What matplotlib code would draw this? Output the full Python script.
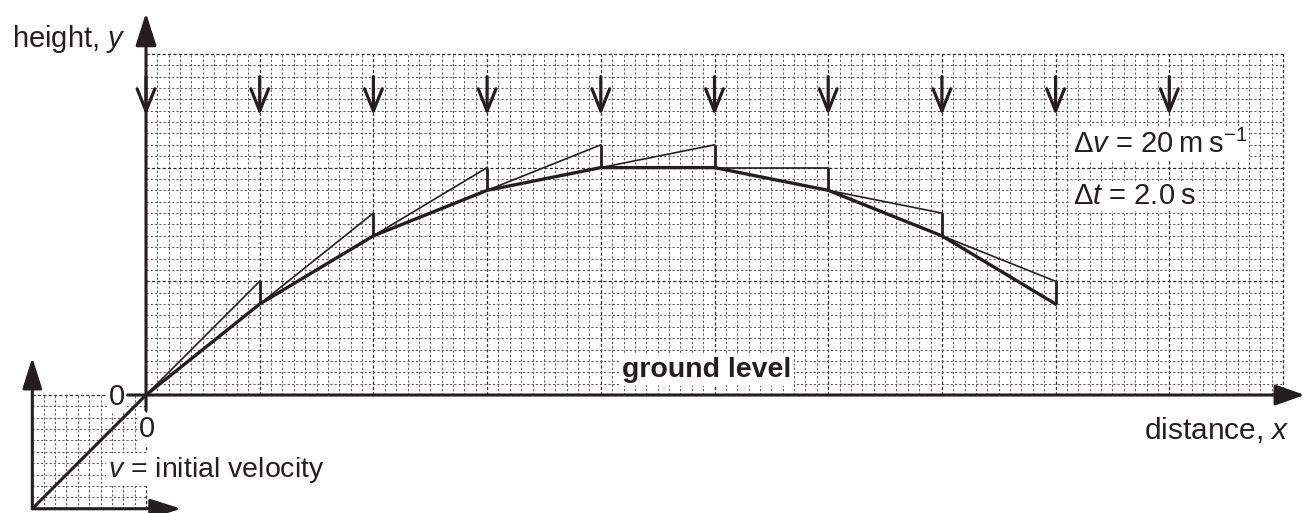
import matplotlib
matplotlib.use("Agg")
import matplotlib.pyplot as plt
import numpy as np

plt.rcParams['font.family'] = ['Liberation Sans', 'DejaVu Sans']
plt.rcParams['mathtext.fontset'] = 'custom'
plt.rcParams['mathtext.rm'] = 'Liberation Sans'
plt.rcParams['mathtext.it'] = 'Liberation Sans:italic'
plt.rcParams['mathtext.bf'] = 'Liberation Sans:bold'

# ---- data (grid units: 1 small square) ----
step_x = [0, 10, 20, 30, 40, 50, 60, 70, 80]          # positions at each time step
step_y = [0, 8, 14, 18, 20, 20, 18, 14, 8]            # heights at each time step
free_y = [10, 16, 20, 22, 22, 20, 16, 10]             # height reached without gravity after one step
arrow_x = [0, 10, 20, 30, 40, 50, 60, 70, 80, 90]     # gravity arrows
arrow_top, arrow_tip = 28, 24.6
grid_w, grid_h = 100, 30
inset = 10

u = 11.37  # pixels per grid unit
fig = plt.figure(figsize=(13.03, 5.13), dpi=100)
ax = fig.add_axes([0, 0, 1, 1])
ax.set_xlim(-146 / u, (1303 - 146) / u)
ax.set_ylim(-(513 - 395) / u, 395 / u)
ax.axis('off')

def grid(x0, x1, y0, y1):
    for x in range(x0, x1 + 1):
        major = (x % 10 == 0)
        ax.plot([x, x], [y0, y1], color='#2a2a2a' if major else '#555',
                lw=0.9 if major else 0.7, dashes=(2.5, 1.8) if major else (2.2, 2.2), zorder=1)
    for y in range(y0, y1 + 1):
        major = (y % 10 == 0)
        ax.plot([x0, x1], [y, y], color='#2a2a2a' if major else '#555',
                lw=0.9 if major else 0.7, dashes=(2.5, 1.8) if major else (2.2, 2.2), zorder=1)

grid(0, grid_w, 0, grid_h)
grid(-inset, 0, -inset, 0)

tc = '#231f20'
# axes
ax.annotate('', xy=(0, 33.6), xytext=(0, -1.35), annotation_clip=False,
            arrowprops=dict(arrowstyle='-|>,head_length=1.0,head_width=0.32', mutation_scale=20,
                            lw=2.2, color=tc, shrinkA=0, shrinkB=0), zorder=6)
ax.annotate('', xy=(101.9, 0), xytext=(-1.6, 0), annotation_clip=False,
            arrowprops=dict(arrowstyle='-|>,head_length=0.9,head_width=0.32', mutation_scale=20,
                            lw=2.2, color=tc, shrinkA=0, shrinkB=0), zorder=6)
# inset axes
ax.annotate('', xy=(-inset, 3.3), xytext=(-inset, -inset), annotation_clip=False,
            arrowprops=dict(arrowstyle='-|>,head_length=0.95,head_width=0.3', mutation_scale=20,
                            lw=2.2, color=tc, shrinkA=0, shrinkB=0), zorder=6)
ax.annotate('', xy=(3.1, -inset), xytext=(-inset, -inset), annotation_clip=False,
            arrowprops=dict(arrowstyle='-|>,head_length=0.95,head_width=0.3', mutation_scale=20,
                            lw=2.2, color=tc, shrinkA=0, shrinkB=0), zorder=6)
# initial velocity vector
ax.plot([-inset, 0], [-inset, 0], color=tc, lw=2.2, zorder=5, solid_capstyle='butt')

# gravity arrows
for x in arrow_x:
    ax.annotate('', xy=(x, arrow_tip), xytext=(x, arrow_top), annotation_clip=False,
                arrowprops=dict(arrowstyle='->,head_length=0.8,head_width=0.32', mutation_scale=20,
                                lw=2.3, color=tc, shrinkA=0, shrinkB=0), zorder=6)

# thin "no gravity" segments and vertical corrections
for i in range(len(free_y)):
    ax.plot([step_x[i], step_x[i + 1]], [step_y[i], free_y[i]], color=tc, lw=1.2, zorder=5)
    ax.plot([step_x[i + 1], step_x[i + 1]], [free_y[i], step_y[i + 1]], color=tc, lw=2.0,
            zorder=5, solid_capstyle='butt')

# actual path
ax.plot(step_x, step_y, color=tc, lw=2.4, zorder=5, solid_joinstyle='miter')

fs = 21
wb = dict(facecolor='white', edgecolor='none', pad=1)
ax.text(-11.8, 30.6, 'height, $y$', fontsize=fs, color=tc, ha='left', va='baseline')
ax.text(100.6, -3.85, 'distance, $x$', fontsize=21.5, color=tc, ha='right', va='baseline')
ax.text(-2.6, -0.88, '0', fontsize=fs, color=tc, ha='center', va='baseline', zorder=3, bbox=wb)
ax.text(0.1, -3.7, '0', fontsize=fs, color=tc, ha='center', va='baseline', zorder=3, bbox=wb)
ax.text(49.3, 1.6, 'ground level', fontsize=20.5, fontweight='bold', color=tc, ha='center',
        va='baseline', zorder=3, bbox=dict(facecolor='white', edgecolor='none', pad=2))
ax.text(81.5, 21.3, 'Δ$v$ = 20\u2009m\u2009s$^{-1}$', fontsize=fs, color=tc, ha='left', va='baseline',
        zorder=3, bbox=wb)
ax.text(81.5, 16.8, 'Δ$t$ = 2.0\u2009s', fontsize=fs, color=tc, ha='left', va='baseline',
        zorder=3, bbox=wb)
ax.text(-3.35, -7.2, '$v$ = initial velocity', fontsize=20.5, color=tc, ha='left', va='baseline',
        zorder=3, bbox=wb)

fig.savefig('out.png', dpi=100)
